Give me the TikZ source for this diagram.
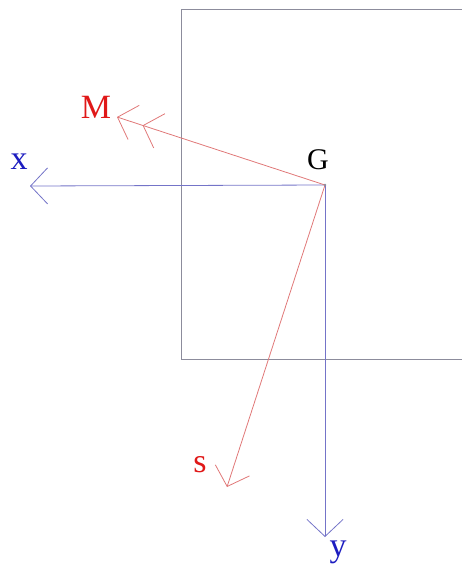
\documentclass[tikz,border=0pt]{standalone}
\usepackage{fontspec}
\setmainfont{Liberation Serif}
\usetikzlibrary{arrows.meta}
\definecolor{framec}{HTML}{8C8C9C}
\definecolor{axisc}{HTML}{7474C8}
\definecolor{axislab}{HTML}{1C1CC0}
\definecolor{forcec}{HTML}{E07878}
\definecolor{forcelab}{HTML}{E01818}
\begin{document}
\begin{tikzpicture}[x=1pt,y=-1pt,barb/.tip={Straight Barb[length=17pt,width=36pt,line width=.8pt]},axis/.style={-barb,draw=axisc,line width=.8pt},force/.style={-barb,draw=forcec,line width=.8pt},lab/.style={font=\fontsize{34}{38}\selectfont,inner sep=0pt}]
\useasboundingbox (0,0) rectangle (461,568);
\coordinate (G) at (325,185);
\coordinate (xend) at (30,186);
\coordinate (yend) at (325,537);
\coordinate (Mend) at (117,117);
\coordinate (send) at (227,487);
% frame (open to the right)
\draw[framec,line width=.8pt] (462,9) -- (181,9) -- (181,359) -- (462,359);
% axes
\draw[axis] (G) -- (xend);
\draw[axis] (G) -- (yend);
% vectors
\draw[force,-{barb[sep=9pt] barb}] (G) -- (Mend);
\draw[force] (G) -- (send);
\fill[framec] (G) circle (1.3);
% labels
\node[lab,font=\fontsize{30}{34}\selectfont] (Glab) at (318,160) {G};
\node[lab,text=axislab] (xlab) at (19,162) {x};
\node[lab,text=axislab] (ylab) at (338,552) {y};
\node[lab,text=forcelab] (Mlab) at (96,107) {M};
\node[lab,text=forcelab] (slab) at (200,465) {s};
\end{tikzpicture}
\end{document}
